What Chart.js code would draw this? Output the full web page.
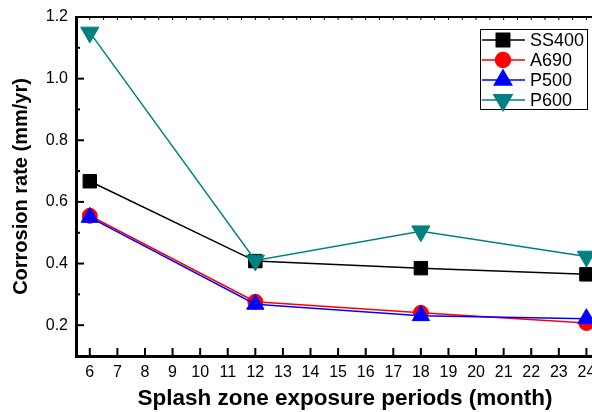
<!DOCTYPE html>
<html>
<head>
<meta charset="utf-8">
<script src="https://cdn.jsdelivr.net/npm/chart.js@4.4.0/dist/chart.umd.min.js"></script>
<style>
    html, body { margin: 0; padding: 0; background: #fff; overflow: hidden; }
    #wrap { width: 620px; height: 412px; }
</style>
</head>
<body>
<div id="wrap"><canvas id="chart" width="620" height="412"></canvas></div>
<script>
// Chart data
const months = [6, 12, 18, 24];
const ss400 = [0.667, 0.408, 0.385, 0.365];
const a690 = [0.555, 0.276, 0.240, 0.207];
const p500 = [0.550, 0.268, 0.231, 0.221];
const p600 = [1.150, 0.410, 0.505, 0.423];

const xTicks = [6, 7, 8, 9, 10, 11, 12, 13, 14, 15, 16, 17, 18, 19, 20, 21, 22, 23, 24];
const yTicks = [0.2, 0.4, 0.6, 0.8, 1.0, 1.2];
const yMinorTicks = [0.1, 0.3, 0.5, 0.7, 0.9, 1.1];

const FONT = '"Liberation Sans", Arial, sans-serif';

function toPoints(values) {
    return months.map((m, i) => ({ x: m, y: values[i] }));
}

// Inward ticks, top frame line and the boxed legend
const framePlugin = {
    id: 'frame',
    afterDraw(chart) {
        const ctx = chart.ctx;
        const area = chart.chartArea;
        const xs = chart.scales.x;
        const ys = chart.scales.y;

        ctx.save();
        ctx.strokeStyle = '#000';

        // top frame
        ctx.lineWidth = 2;
        ctx.beginPath();
        ctx.moveTo(area.left, area.top);
        ctx.lineTo(area.right, area.top);
        ctx.stroke();

        // y ticks (inward)
        yTicks.forEach(v => {
            const y = ys.getPixelForValue(v);
            ctx.beginPath();
            ctx.moveTo(area.left, y);
            ctx.lineTo(area.left + 8, y);
            ctx.stroke();
        });
        yMinorTicks.forEach(v => {
            const y = ys.getPixelForValue(v);
            ctx.beginPath();
            ctx.moveTo(area.left, y);
            ctx.lineTo(area.left + 4, y);
            ctx.stroke();
        });

        // x ticks (inward) and small ticks on the top frame
        xTicks.concat([25]).forEach(v => {
            const x = xs.getPixelForValue(v);
            ctx.lineWidth = 2;
            ctx.beginPath();
            ctx.moveTo(x, area.bottom);
            ctx.lineTo(x, area.bottom - 8);
            ctx.stroke();
            ctx.lineWidth = 1;
            ctx.beginPath();
            ctx.moveTo(x, area.top);
            ctx.lineTo(x, area.top + 3);
            ctx.stroke();
            const xh = xs.getPixelForValue(v - 0.5);
            ctx.beginPath();
            ctx.moveTo(xh, area.top);
            ctx.lineTo(xh, area.top + 3);
            ctx.stroke();
        });

        // legend
        const box = { x: 480, y: 29, w: 107, h: 80 };
        ctx.lineWidth = 1;
        ctx.strokeStyle = '#000';
        ctx.strokeRect(box.x + 0.5, box.y + 0.5, box.w, box.h);
        ctx.font = '18px ' + FONT;
        ctx.textBaseline = 'middle';
        chart.data.datasets.forEach((ds, i) => {
            const cy = box.y + 11 + i * 20;
            ctx.strokeStyle = ds.borderColor;
            ctx.lineWidth = 1.5;
            ctx.beginPath();
            ctx.moveTo(box.x + 2, cy);
            ctx.lineTo(box.x + 45, cy);
            ctx.stroke();
            ctx.fillStyle = ds.pointBackgroundColor;
            ctx.strokeStyle = ds.pointBackgroundColor;
            Chart.helpers.drawPoint(ctx, {
                pointStyle: ds.pointStyle,
                radius: ds.pointRadius,
                rotation: ds.pointRotation || 0,
                borderWidth: 1
            }, box.x + 23, cy);
            ctx.fillStyle = '#000';
            ctx.fillText(ds.label, box.x + 50, cy + 1);
        });

        ctx.restore();
    }
};

function series(label, values, color, style, radius, rotation, order) {
    return {
        label: label,
        data: toPoints(values),
        borderColor: color,
        backgroundColor: color,
        pointBackgroundColor: color,
        pointBorderColor: color,
        pointStyle: style,
        pointRadius: radius,
        pointRotation: rotation,
        pointBorderWidth: 1,
        borderWidth: 1.5,
        order: order
    };
}

function noPadding(scale) {
    scale.paddingLeft = 0;
    scale.paddingRight = 0;
    scale.paddingTop = 0;
    scale.paddingBottom = 0;
}

const ctx = document.getElementById('chart').getContext('2d');
new Chart(ctx, {
    type: 'line',
    data: {
        datasets: [
            series('SS400', ss400, '#000000', 'rect', 9.5, 0, 3),
            series('A690', a690, '#ff0000', 'circle', 7.5, 0, 2),
            series('P500', p500, '#0000ff', 'triangle', 10, 0, 1),
            series('P600', p600, '#008080', 'triangle', 10.5, 180, 0)
        ]
    },
    options: {
        responsive: false,
        animation: false,
        layout: { autoPadding: false, padding: { top: 17, right: 6, left: 0, bottom: 0 } },
        plugins: {
            legend: { display: false },
            tooltip: { enabled: false }
        },
        scales: {
            x: {
                type: 'linear',
                min: 5.5,
                max: 25,
                afterBuildTicks: scale => { scale.ticks = xTicks.map(v => ({ value: v })); },
                afterFit: scale => { scale.height = 56; noPadding(scale); },
                grid: { drawOnChartArea: false, drawTicks: false },
                border: { display: true, color: '#000', width: 3 },
                ticks: {
                    color: '#000',
                    font: { family: FONT, size: 16 },
                    padding: 7,
                    maxRotation: 0,
                    autoSkip: false
                },
                title: {
                    display: true,
                    text: 'Splash zone exposure periods (month)',
                    color: '#000',
                    font: { family: FONT, size: 22.5, weight: 'bold' },
                    padding: 0
                }
            },
            y: {
                type: 'linear',
                min: 0.1,
                max: 1.2,
                afterBuildTicks: scale => { scale.ticks = yTicks.map(v => ({ value: v })); },
                afterFit: scale => { scale.width = 76; noPadding(scale); },
                grid: { drawOnChartArea: false, drawTicks: false },
                border: { display: true, color: '#000', width: 3 },
                ticks: {
                    color: '#000',
                    font: { family: FONT, size: 16 },
                    padding: 8,
                    callback: v => Number(v).toFixed(1)
                },
                title: {
                    display: true,
                    text: 'Corrosion rate (mm/yr)',
                    color: '#000',
                    font: { family: FONT, size: 20, weight: 'bold' },
                    padding: { top: 9, bottom: 0 }
                }
            }
        }
    },
    plugins: [framePlugin]
});
</script>
</body>
</html>
